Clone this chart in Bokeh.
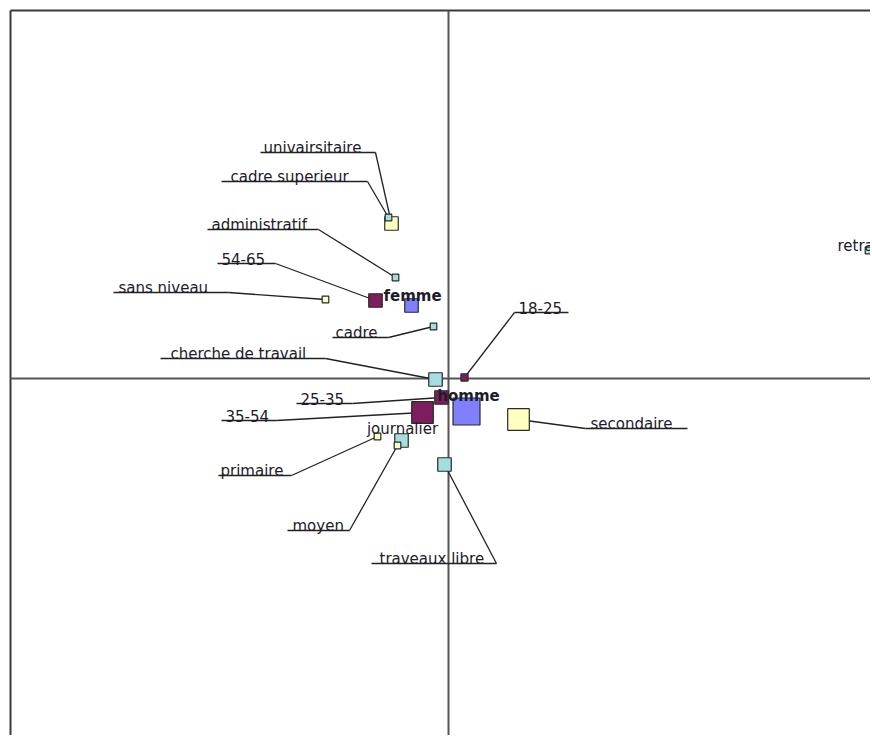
from bokeh.plotting import figure
from bokeh.models import Range1d, ColumnDataSource
from bokeh.core.properties import value
from bokeh.embed import file_html
from bokeh.resources import INLINE
import math

# ---- data ----
modalites = ["univairsitaire", "cadre superieur", "administratif", "54-65", "sans niveau",
             "femme", "cadre", "18-25", "cherche de travail", "homme", "25-35", "35-54",
             "journalier", "primaire", "moyen", "traveaux libre", "secondaire", "retraité"]
groupes = ["niveau", "profession", "profession", "age", "niveau",
           "sexe", "profession", "age", "profession", "sexe", "age", "age",
           "profession", "niveau", "niveau", "profession", "niveau", "profession"]
coord_x = [-0.1425, -0.150, -0.1325, -0.1825, -0.3075,
           -0.0925, -0.0375, 0.040, -0.0325, 0.045, -0.0175, -0.065,
           -0.1175, -0.1775, -0.1275, -0.010, 0.175, 1.050]
coord_y = [0.3875, 0.4025, 0.2525, 0.195, 0.1975,
           0.1825, 0.130, 0.0025, -0.0025, -0.0825, -0.0475, -0.085,
           -0.155, -0.145, -0.1675, -0.215, -0.1025, 0.320]
masse = [25, 6, 6, 25, 6,
         25, 6, 7, 25, 100, 25, 64,
         25, 6, 6, 25, 64, 6]

couleurs = {"sexe": "#8080ff", "age": "#7d1d5c", "niveau": "#ffffc0", "profession": "#a4dede"}

# ---- layout ----
S = 400.0            # screen pixels per unit
OX, OY = 448, 378    # origin position inside the figure (px)
W, H = 870, 735

def d(px):
    return px / S

# label layout, in px relative to the point: text_dx, underline x0, x1, underline dy (down +), attach end
etiq = {
    "univairsitaire":     (-128, -131, -16, -71, "R"),
    "cadre superieur":    (-158, -167, -21, -36, "R"),
    "administratif":      (-184, -188, -77, -48, "R"),
    "54-65":              (-154, -158, -100, -37, "R"),
    "sans niveau":        (-207, -212, -97, -7, "R"),
    "cadre":              (-98, -101, -45, 11, "R"),
    "18-25":              (54, 50, 104, -65, "L"),
    "cherche de travail": (-265, -275, -110, -21, "R"),
    "25-35":              (-141, -145, -89, 6, "R"),
    "35-54":              (-197, -201, -146, 8, "R"),
    "primaire":           (-157, -159, -86, 39, "R"),
    "moyen":              (-105, -110, -48, 85, "R"),
    "traveaux libre":     (-65, -73, 52, 99, "R"),
    "secondaire":         (72, 67, 169, 9, "L"),
}
centres = {"femme": (1, -10, True), "homme": (2, -16, True), "journalier": (1, -12, False)}
libre = {"retraité": (-31, -5)}

x_lo, x_hi = -OX / S, (W - OX) / S
y_lo, y_hi = -(H - OY) / S, OY / S

p = figure(width=W, height=H, output_backend="svg", toolbar_location=None,
           x_range=Range1d(x_lo, x_hi), y_range=Range1d(y_lo, y_hi),
           x_axis_location=None, y_axis_location=None,
           min_border_left=0, min_border_right=0, min_border_top=0, min_border_bottom=0)
p.grid.visible = False
p.outline_line_color = None
p.background_fill_color = "white"

# frame borders (top and left) and the two axes, starting at the frame corner
left, top = (10 - OX) / S, (OY - 10) / S
p.segment(x0=[left, left], y0=[top, top], x1=[x_hi + 1, left], y1=[top, y_lo - 1],
          line_color="#3a3a3a", line_width=2)
p.segment(x0=[left, 0], y0=[0, top], x1=[x_hi + 1, 0], y1=[0, y_lo - 1],
          line_color="#555555", line_width=2)

# underlines and leader lines
seg = dict(x0=[], y0=[], x1=[], y1=[])
txt = dict(x=[], y=[], t=[])
for name, x, y in zip(modalites, coord_x, coord_y):
    if name in etiq:
        tdx, ux0, ux1, udy, side = etiq[name]
        uy = y - d(udy)
        seg["x0"].append(x + d(ux0)); seg["x1"].append(x + d(ux1))
        seg["y0"].append(uy); seg["y1"].append(uy)
        ax = x + d(ux1) if side == "R" else x + d(ux0)
        seg["x0"].append(ax); seg["y0"].append(uy)
        seg["x1"].append(x); seg["y1"].append(y)
        txt["x"].append(x + d(tdx)); txt["y"].append(uy + d(5)); txt["t"].append(name)
    elif name in libre:
        tdx, tdy = libre[name]
        txt["x"].append(x + d(tdx)); txt["y"].append(y - d(tdy)); txt["t"].append(name)

p.segment("x0", "y0", "x1", "y1", source=ColumnDataSource(seg), line_color="#222222", line_width=1.3)

# squares, largest first
order = sorted(range(len(modalites)), key=lambda i: -masse[i])
pts = ColumnDataSource(dict(
    x=[coord_x[i] for i in order], y=[coord_y[i] for i in order],
    s=[2.7 * math.sqrt(masse[i]) for i in order],
    c=[couleurs[groupes[i]] for i in order]))
p.scatter("x", "y", source=pts, marker="square", size="s", fill_color="c",
          line_color="#2a2a2a", line_width=1.2)

font = value("DejaVu Sans")
p.text("x", "y", "t", source=ColumnDataSource(txt), text_font=font, text_font_size="15px",
       text_color="#1c1c2a", text_align="left", text_baseline="alphabetic")

cx = dict(x=[], y=[], t=[]); cb = dict(x=[], y=[], t=[])
for name, x, y in zip(modalites, coord_x, coord_y):
    if name in centres:
        dx, dy, bold = centres[name]
        tgt = cb if bold else cx
        tgt["x"].append(x + d(dx)); tgt["y"].append(y - d(dy)); tgt["t"].append(name)
p.text("x", "y", "t", source=ColumnDataSource(cb), text_font=font, text_font_size="15px",
       text_font_style="bold", text_color="#1c1c2a", text_align="center", text_baseline="alphabetic")
p.text("x", "y", "t", source=ColumnDataSource(cx), text_font=font, text_font_size="15px",
       text_color="#1c1c2a", text_align="center", text_baseline="alphabetic")

open("out.html", "w").write(file_html(p, INLINE))
